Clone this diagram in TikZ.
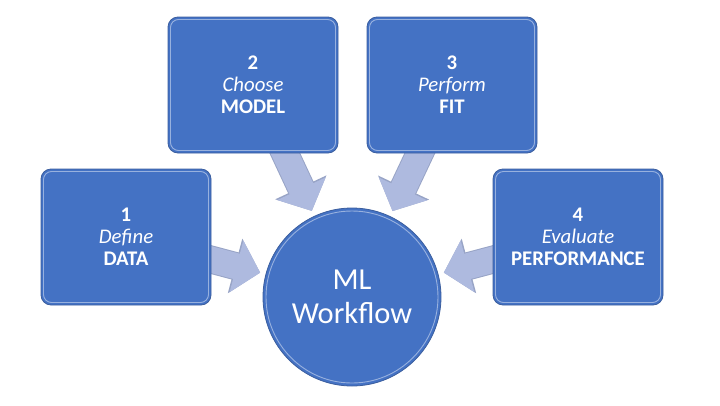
\documentclass[tikz,border=0pt]{standalone}
\usepackage{fontspec}
\setmainfont{Carlito}
\usetikzlibrary{arrows.meta,calc,backgrounds}
\definecolor{boxblue}{HTML}{4472C4}
\definecolor{boxedge}{HTML}{3B5E9E}
\definecolor{arrowfill}{HTML}{AEBADF}
\definecolor{arrowedge}{HTML}{98A4C6}
\tikzset{
  stepbox/.style={rectangle, rounded corners=10pt, fill=boxblue, draw=boxedge, line width=0.8pt,
    minimum width=170pt, minimum height=136pt, text=white, align=center,
    font=\fontsize{20.8}{22}\selectfont,
    path picture={\draw[white, opacity=0.45, line width=0.9pt, rounded corners=8pt]
      ([shift={(2.5pt,-2.5pt)}]path picture bounding box.north west) rectangle
      ([shift={(-2.5pt,2.5pt)}]path picture bounding box.south east);}},
  hub/.style={circle, fill=boxblue, draw=boxedge, line width=0.8pt, minimum size=178pt,
    text=white, align=center, font=\fontsize{30.5}{34}\selectfont,
    path picture={\draw[white, opacity=0.45, line width=0.9pt]
      (path picture bounding box.center) circle[radius=86pt];}},
  arrowrim/.style={line width=28pt, arrowedge, -{Triangle[length=26pt,width=55pt]}},
  flowarrow/.style={line width=26pt, arrowfill, -{Triangle[length=24.5pt,width=52pt]}},
}
\begin{document}
\begin{tikzpicture}[x=1pt,y=-1pt]
\useasboundingbox (0,0) rectangle (720,405);
\node[stepbox] (b1) at (126,237) {\textbf{1}\\\textit{Define}\\\textbf{DATA}};
\node[stepbox] (b2) at (253,85) {\textbf{2}\\\textit{Choose}\\\textbf{MODEL}};
\node[stepbox] (b3) at (452,85) {\textbf{3}\\\textit{Perform}\\\textbf{FIT}};
\node[stepbox] (b4) at (578,237) {\textbf{4}\\\textit{Evaluate}\\\textbf{PERFORMANCE}};
\node[hub] (ml) at (352,297) {ML\\Workflow};
\coordinate (t1) at ($(ml.center)!95pt!(b1.center)$);
\coordinate (t2) at ($(ml.center)!95pt!(b2.center)$);
\coordinate (t3) at ($(ml.center)!95pt!(b3.center)$);
\coordinate (t4) at ($(ml.center)!95pt!(b4.center)$);
\begin{scope}[on background layer]
\foreach \b/\t in {b1/t1,b2/t2,b3/t3,b4/t4}{
  \draw[arrowrim] (\b.center) -- (\t);
  \draw[flowarrow] (\b.center) -- (\t);
}
\end{scope}
\end{tikzpicture}
\end{document}
